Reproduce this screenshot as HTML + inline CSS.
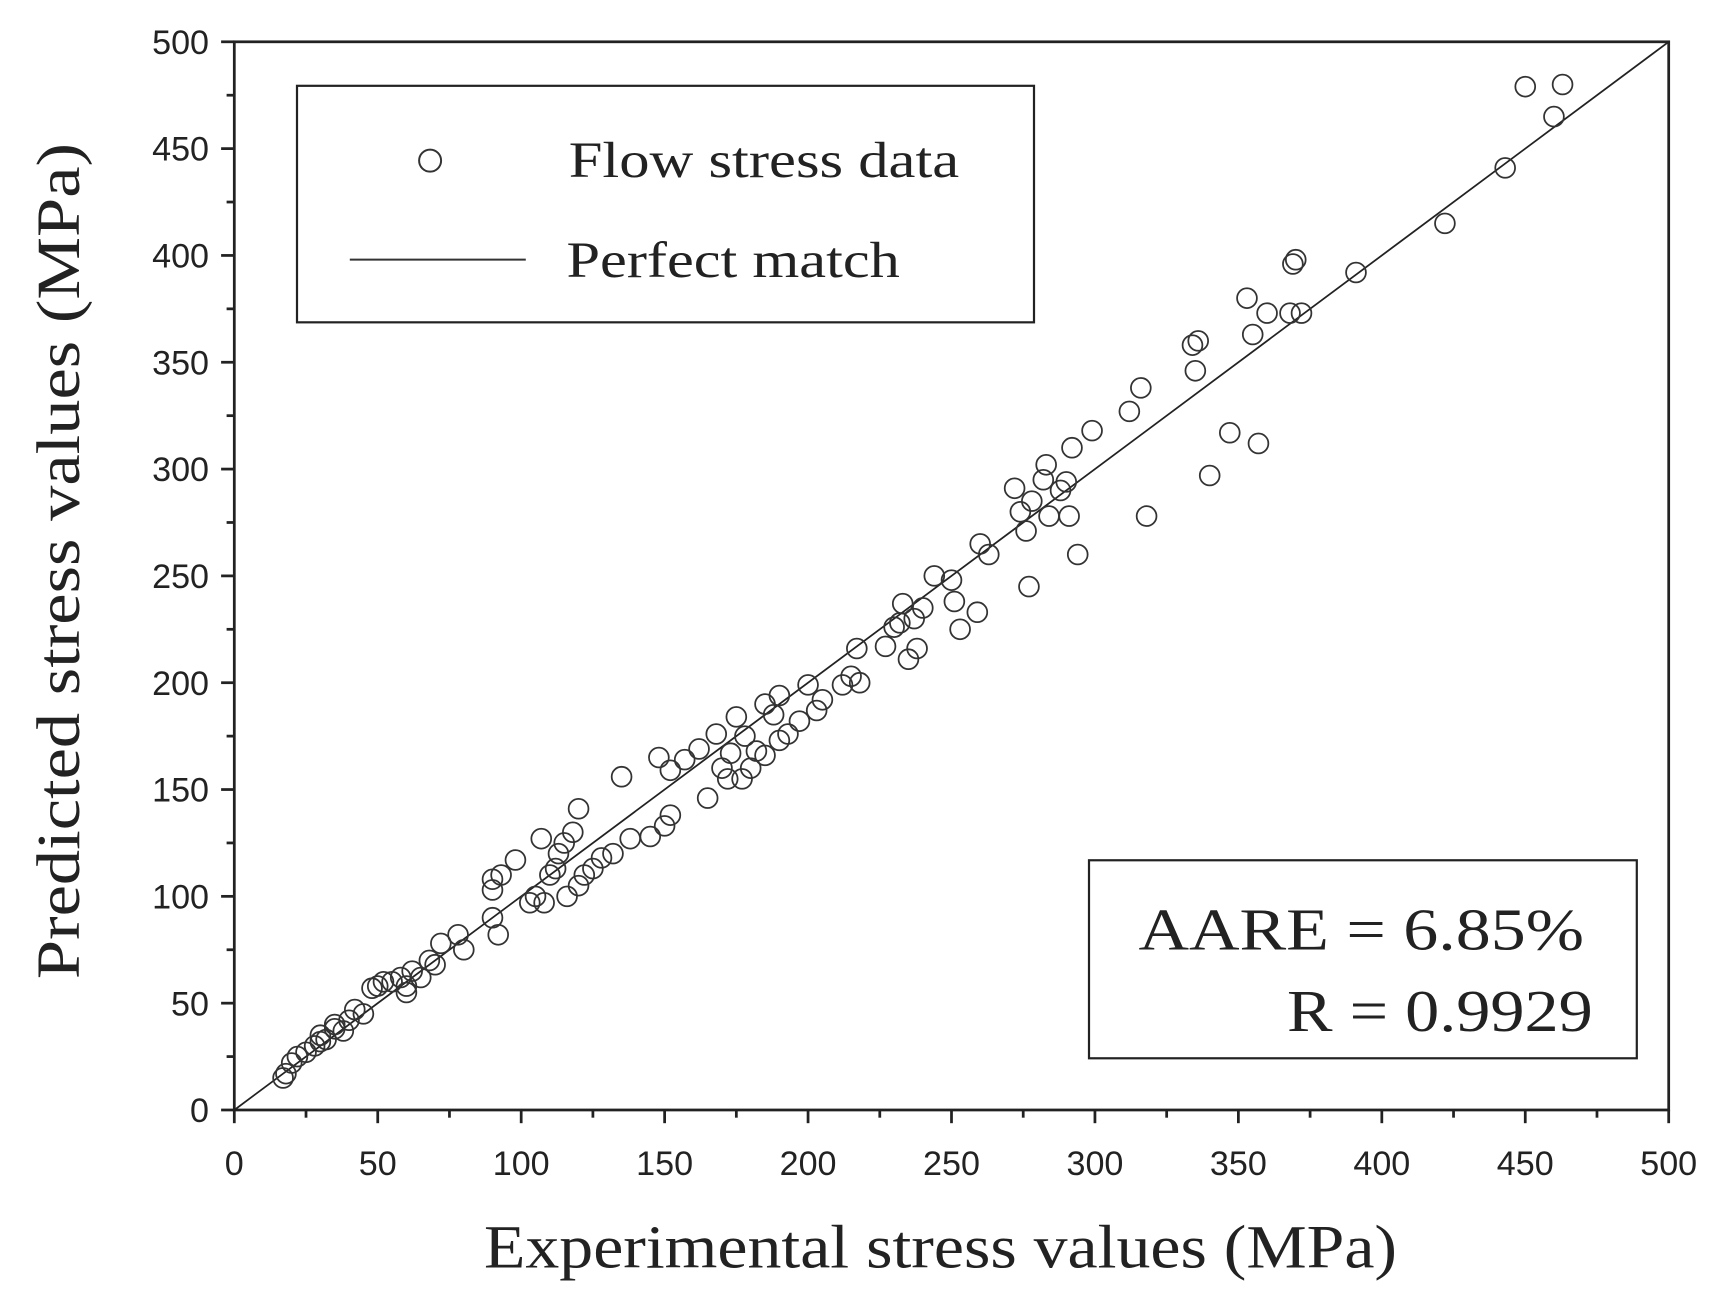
<!DOCTYPE html>
<html><head><meta charset="utf-8"><style>html,body{margin:0;padding:0;background:#fff}svg{display:block}</style></head>
<body>
<svg width="1716" height="1297" viewBox="0 0 1560 1179" preserveAspectRatio="none" xmlns="http://www.w3.org/2000/svg">
<rect width="1560" height="1179" fill="#fff"/>
<g id="ticks" stroke="#222" stroke-width="2.5"></g>
<rect x="213" y="38" width="1304" height="971" fill="none" stroke="#222" stroke-width="2.5"/>
<line x1="213" y1="1009" x2="1517" y2="38" stroke="#222" stroke-width="1.6"/>
<g id="pts" fill="none" stroke="#333" stroke-width="1.6"></g>
<g font-family="Liberation Sans, sans-serif" font-size="31" fill="#222" id="lbl"></g>
<rect x="270" y="78" width="670" height="215" fill="#fff" stroke="#222" stroke-width="2"/>
<circle cx="391" cy="146" r="10" fill="none" stroke="#333" stroke-width="1.8"/>
<text x="517" y="161" textLength="355" lengthAdjust="spacingAndGlyphs" font-family="Liberation Serif, serif" font-size="46" fill="#222">Flow stress data</text>
<line x1="318" y1="236" x2="478" y2="236" stroke="#333" stroke-width="1.8"/>
<text x="515" y="252" textLength="303" lengthAdjust="spacingAndGlyphs" font-family="Liberation Serif, serif" font-size="46" fill="#222">Perfect match</text>
<rect x="990" y="782" width="498" height="180" fill="#fff" stroke="#222" stroke-width="2"/>
<text x="1035" y="863" textLength="405" lengthAdjust="spacingAndGlyphs" font-family="Liberation Serif, serif" font-size="54" fill="#222">AARE = 6.85%</text>
<text x="1170" y="937" textLength="278" lengthAdjust="spacingAndGlyphs" font-family="Liberation Serif, serif" font-size="54" fill="#222">R = 0.9929</text>
<text x="440" y="1152" textLength="830" lengthAdjust="spacingAndGlyphs" font-family="Liberation Serif, serif" font-size="56" fill="#222">Experimental stress values (MPa)</text>
<text transform="translate(72,890) rotate(-90)" textLength="760" lengthAdjust="spacingAndGlyphs" font-family="Liberation Serif, serif" font-size="56" fill="#222">Predicted stress values (MPa)</text>
<script>
var NS="http://www.w3.org/2000/svg";
function X(v){return 213+v*2.608}function Y(v){return 1009-v*1.942}
var t=document.getElementById("ticks"),l=document.getElementById("lbl");
function ln(a,b,c,d){var e=document.createElementNS(NS,"line");e.setAttribute("x1",a);e.setAttribute("y1",b);e.setAttribute("x2",c);e.setAttribute("y2",d);t.appendChild(e);}
function tx(x,y,s,a){var e=document.createElementNS(NS,"text");e.setAttribute("x",x);e.setAttribute("y",y);e.setAttribute("text-anchor",a);e.textContent=s;l.appendChild(e);}
for(var v=0;v<=500;v+=25){var maj=v%50==0,L=maj?12:7;
ln(X(v),1009,X(v),1009+L);ln(213,Y(v),213-L,Y(v));
if(maj){tx(X(v),1068,v,"middle");tx(190,Y(v)+11,v,"end");}}
var P=[[17,15],[18,17],[20,22],[22,25],[25,27],[28,30],[30,32],[30,35],[32,33],[35,38],[35,40],[38,37],[40,42],[42,47],[45,45],[48,57],[50,58],[52,60],[55,60],[58,62],[60,55],[60,58],[62,65],[65,62],[68,70],[70,68],[72,78],[78,82],[80,75],[90,90],[90,103],[90,108],[92,82],[93,110],[98,117],[103,97],[105,100],[107,127],[108,97],[110,110],[112,113],[113,120],[115,125],[116,100],[118,130],[120,141],[120,105],[122,110],[125,113],[128,118],[132,120],[135,156],[138,127],[145,128],[148,165],[150,133],[152,138],[152,159],[157,164],[162,169],[165,146],[168,176],[170,160],[172,155],[173,167],[175,184],[177,155],[178,175],[180,160],[182,168],[185,190],[185,166],[188,185],[190,173],[190,194],[193,176],[197,182],[200,199],[203,187],[205,192],[212,199],[215,203],[217,216],[218,200],[227,217],[230,226],[232,228],[233,237],[235,211],[237,230],[238,216],[240,235],[244,250],[250,248],[251,238],[253,225],[259,233],[260,265],[263,260],[272,291],[274,280],[276,271],[277,245],[278,285],[282,295],[283,302],[284,278],[288,290],[290,294],[291,278],[292,310],[294,260],[299,318],[312,327],[316,338],[318,278],[334,358],[335,346],[336,360],[340,297],[347,317],[353,380],[355,363],[357,312],[360,373],[368,373],[369,396],[370,398],[372,373],[391,392],[422,415],[443,441],[450,479],[460,465],[463,480]];
var g=document.getElementById("pts");
P.forEach(function(p){var c=document.createElementNS(NS,"circle");c.setAttribute("cx",X(p[0]));c.setAttribute("cy",Y(p[1]));c.setAttribute("r",9);g.appendChild(c);});
</script>
</svg>
</body></html>
